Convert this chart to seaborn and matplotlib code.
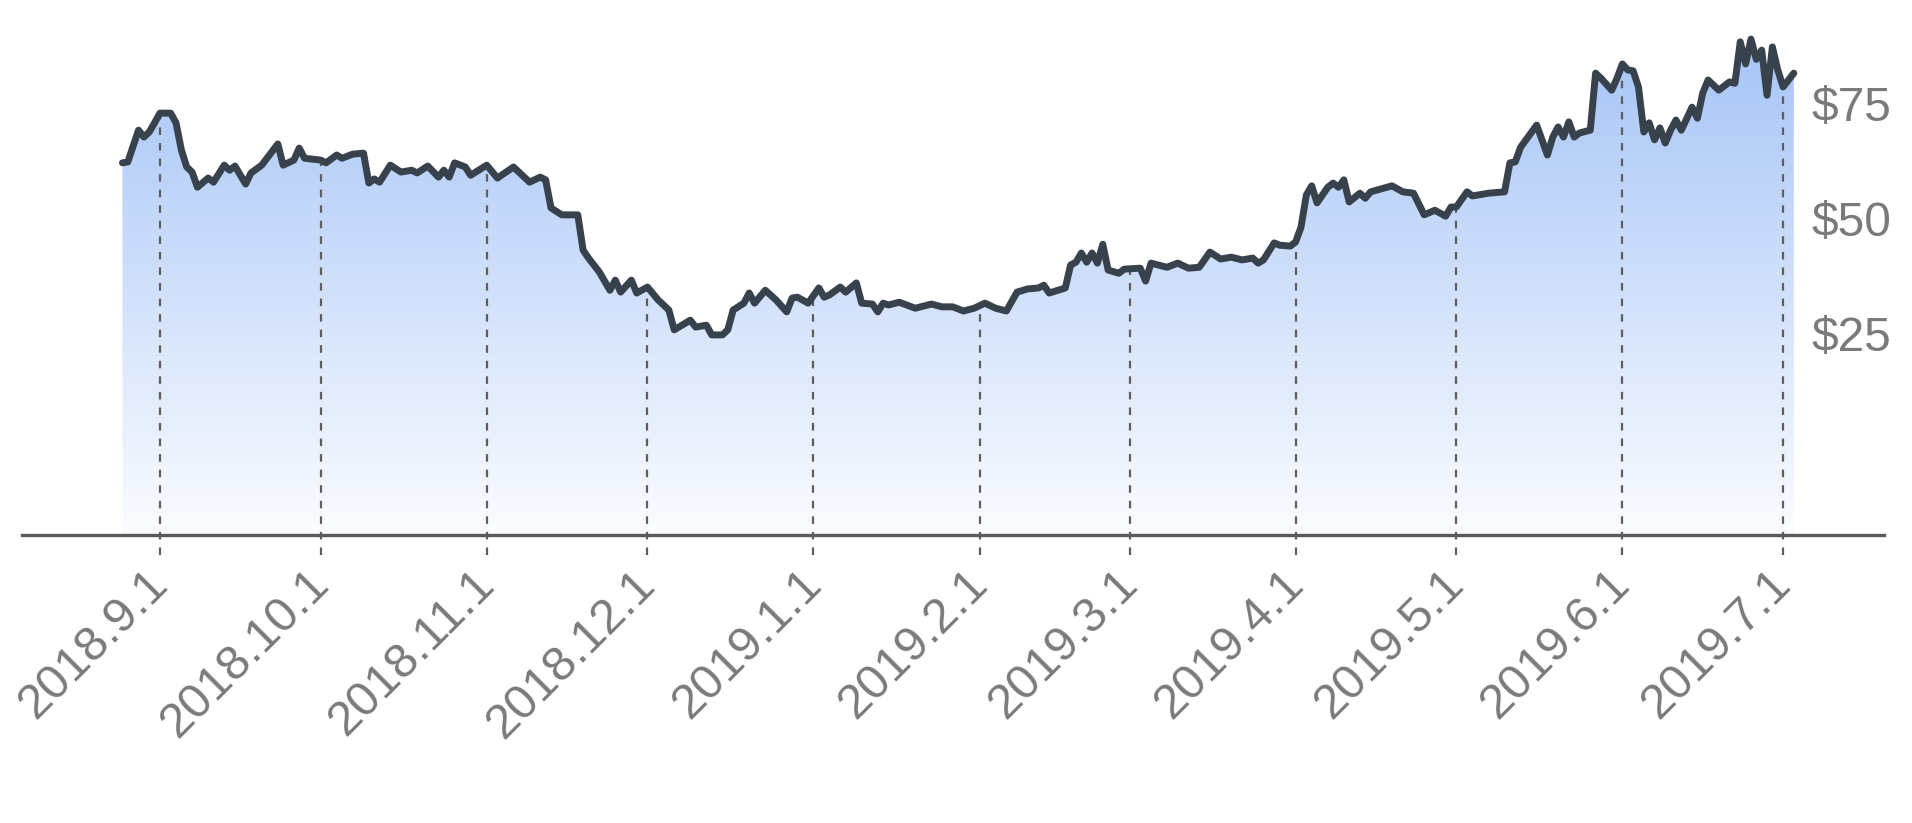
"""
Share price area chart, Aug 2018 - Jul 2019.
"""

import matplotlib
matplotlib.use("Agg")
import matplotlib.pyplot as plt
import matplotlib.dates as mdates
from matplotlib.colors import LinearSegmentedColormap
from matplotlib.transforms import ScaledTranslation
import numpy as np
import pandas as pd
import seaborn as sns

dates = [
    "2018-08-25", "2018-08-26", "2018-08-28", "2018-08-29", "2018-08-30", "2018-08-31",
    "2018-09-01", "2018-09-03", "2018-09-04", "2018-09-05", "2018-09-06", "2018-09-07",
    "2018-09-08", "2018-09-10", "2018-09-11", "2018-09-13", "2018-09-14", "2018-09-15",
    "2018-09-17", "2018-09-18", "2018-09-20", "2018-09-23", "2018-09-24", "2018-09-26",
    "2018-09-27", "2018-09-28", "2018-10-01", "2018-10-02", "2018-10-04", "2018-10-05",
    "2018-10-07", "2018-10-09", "2018-10-10", "2018-10-11", "2018-10-12", "2018-10-14",
    "2018-10-16", "2018-10-18", "2018-10-19", "2018-10-21", "2018-10-23", "2018-10-24",
    "2018-10-25", "2018-10-26", "2018-10-28", "2018-10-29", "2018-11-01", "2018-11-03",
    "2018-11-06", "2018-11-09", "2018-11-11", "2018-11-12", "2018-11-13", "2018-11-15",
    "2018-11-18", "2018-11-19", "2018-11-20", "2018-11-22", "2018-11-24", "2018-11-25",
    "2018-11-26", "2018-11-28", "2018-11-29", "2018-12-01", "2018-12-03", "2018-12-05",
    "2018-12-06", "2018-12-09", "2018-12-10", "2018-12-12", "2018-12-13", "2018-12-15",
    "2018-12-16", "2018-12-17", "2018-12-19", "2018-12-20", "2018-12-21", "2018-12-23",
    "2018-12-25", "2018-12-27", "2018-12-28", "2018-12-29", "2018-12-31", "2019-01-02",
    "2019-01-03", "2019-01-04", "2019-01-06", "2019-01-07", "2019-01-09", "2019-01-10",
    "2019-01-12", "2019-01-13", "2019-01-14", "2019-01-15", "2019-01-17", "2019-01-20",
    "2019-01-23", "2019-01-25", "2019-01-27", "2019-01-29", "2019-01-31", "2019-02-02",
    "2019-02-04", "2019-02-06", "2019-02-08", "2019-02-10", "2019-02-12", "2019-02-13",
    "2019-02-14", "2019-02-17", "2019-02-18", "2019-02-19", "2019-02-20", "2019-02-21",
    "2019-02-22", "2019-02-23", "2019-02-24", "2019-02-25", "2019-02-27", "2019-02-28",
    "2019-03-03", "2019-03-04", "2019-03-05", "2019-03-08", "2019-03-10", "2019-03-12",
    "2019-03-14", "2019-03-16", "2019-03-18", "2019-03-20", "2019-03-22", "2019-03-24",
    "2019-03-25", "2019-03-26", "2019-03-28", "2019-03-29", "2019-03-31", "2019-04-01",
    "2019-04-02", "2019-04-03", "2019-04-04", "2019-04-05", "2019-04-07", "2019-04-08",
    "2019-04-09", "2019-04-10", "2019-04-11", "2019-04-13", "2019-04-14", "2019-04-15",
    "2019-04-19", "2019-04-21", "2019-04-23", "2019-04-25", "2019-04-27", "2019-04-29",
    "2019-04-30", "2019-05-01", "2019-05-03", "2019-05-04", "2019-05-07", "2019-05-10",
    "2019-05-11", "2019-05-12", "2019-05-13", "2019-05-14", "2019-05-16", "2019-05-18",
    "2019-05-19", "2019-05-20", "2019-05-21", "2019-05-22", "2019-05-23", "2019-05-24",
    "2019-05-26", "2019-05-27", "2019-05-28", "2019-05-30", "2019-05-31", "2019-06-01",
    "2019-06-02", "2019-06-03", "2019-06-04", "2019-06-05", "2019-06-06", "2019-06-07",
    "2019-06-08", "2019-06-09", "2019-06-10", "2019-06-11", "2019-06-12", "2019-06-14",
    "2019-06-15", "2019-06-16", "2019-06-17", "2019-06-19", "2019-06-21", "2019-06-22",
    "2019-06-23", "2019-06-24", "2019-06-25", "2019-06-26", "2019-06-27", "2019-06-28",
    "2019-06-29", "2019-06-30", "2019-07-01", "2019-07-03",
]
prices = [
    62.0, 62.2, 69.1, 67.6, 68.7, 70.7,
    72.8, 72.8, 70.7, 64.8, 61.1, 60.0,
    56.7, 58.7, 57.8, 61.5, 60.4, 61.3,
    57.4, 59.8, 61.5, 66.1, 61.5, 62.6,
    65.2, 63.0, 62.6, 62.0, 63.7, 63.0,
    63.9, 64.1, 57.6, 58.5, 57.8, 61.5,
    60.0, 60.4, 59.8, 61.3, 58.9, 60.4,
    58.9, 62.0, 61.1, 59.3, 61.5, 58.7,
    61.1, 57.8, 58.9, 58.3, 52.2, 50.7,
    50.7, 43.0, 41.3, 38.3, 34.3, 36.5,
    33.9, 36.5, 33.7, 35.0, 32.2, 30.0,
    25.7, 27.8, 26.3, 26.7, 24.6, 24.6,
    25.7, 30.0, 31.5, 33.7, 31.5, 34.3,
    32.2, 29.6, 32.6, 32.8, 31.5, 34.8,
    32.8, 33.3, 35.0, 33.9, 35.9, 31.5,
    31.3, 29.6, 31.5, 31.1, 31.7, 30.4,
    31.3, 30.7, 30.7, 29.8, 30.4, 31.5,
    30.4, 29.8, 33.9, 34.6, 34.8, 35.4,
    33.7, 34.8, 39.8, 40.4, 42.4, 40.4,
    42.4, 40.2, 44.3, 38.7, 38.0, 38.9,
    39.1, 36.3, 40.2, 39.3, 40.2, 39.1,
    39.3, 42.6, 41.1, 41.5, 40.9, 41.3,
    40.2, 40.9, 44.6, 44.1, 43.9, 44.8,
    48.0, 55.0, 57.0, 53.3, 56.7, 57.6,
    56.7, 58.3, 53.5, 55.4, 54.3, 55.7,
    57.0, 55.7, 55.4, 50.7, 51.7, 50.4,
    52.4, 52.4, 55.7, 54.8, 55.4, 55.7,
    62.0, 62.2, 65.4, 67.0, 70.2, 63.7,
    67.6, 69.8, 67.6, 70.9, 67.6, 68.5,
    69.1, 81.5, 80.4, 77.8, 80.4, 83.5,
    82.2, 82.0, 78.5, 68.7, 70.7, 67.0,
    69.6, 66.3, 69.1, 71.3, 69.1, 74.1,
    71.7, 77.2, 80.0, 77.8, 79.6, 79.3,
    88.3, 83.5, 88.9, 84.5, 86.5, 76.7,
    87.2, 82.2, 78.5, 81.5,
]

month_ticks = ["2018-09-01", "2018-10-01", "2018-11-01", "2018-12-01", "2019-01-01",
               "2019-02-01", "2019-03-01", "2019-04-01", "2019-05-01", "2019-06-01",
               "2019-07-01"]
month_labels = ["2018.9.1", "2018.10.1", "2018.11.1", "2018.12.1", "2019.1.1",
                "2019.2.1", "2019.3.1", "2019.4.1", "2019.5.1", "2019.6.1", "2019.7.1"]
price_ticks = [25, 50, 75]
price_labels = ["$25", "$50", "$75"]

df = pd.DataFrame({"date": pd.to_datetime(dates), "price": prices})

sns.set_style("white")
plt.rcParams["font.family"] = ["Liberation Sans", "DejaVu Sans"]

W, H = 1912, 823
fig = plt.figure(figsize=(W / 100, H / 100), dpi=100)
ax = fig.add_axes([22 / W, 1 - 535 / H, (1884 - 22) / W, 535 / H])

y_lo, y_hi = -18.9, 97.4
x_lo = pd.Timestamp("2018-08-06 06:00")
x_hi = pd.Timestamp("2019-07-19 20:00")

# gradient area under the curve
fill = ax.fill_between(df["date"], df["price"], y_lo, facecolor="none", edgecolor="none")
fade = LinearSegmentedColormap.from_list("fade", ["#fbfcff", "#9fc0f6"])
grad = ax.imshow(np.linspace(0, 1, 256).reshape(-1, 1), cmap=fade, aspect="auto",
                 origin="lower", interpolation="bilinear",
                 extent=[mdates.date2num(x_lo), mdates.date2num(x_hi), y_lo, y_hi], zorder=1)
grad.set_clip_path(fill.get_paths()[0], transform=ax.transData)

# dashed drop lines at each month start
tick_dates = pd.to_datetime(month_ticks)
tick_vals = np.interp(mdates.date2num(tick_dates), mdates.date2num(df["date"]), df["price"])
ax.vlines(tick_dates, y_lo - 20 / 4.6, tick_vals, colors="#5e5e5e",
          linestyles=(0, (3.4, 3.6)), linewidth=1.6, clip_on=False, zorder=2)

sns.lineplot(data=df, x="date", y="price", color="#38424c", linewidth=5, ax=ax,
             zorder=3, solid_joinstyle="round", solid_capstyle="round")

ax.set_xlim(x_lo, x_hi)
ax.set_ylim(y_lo, y_hi)
ax.set_xlabel("")
ax.set_ylabel("")

for side in ["left", "right", "top"]:
    ax.spines[side].set_visible(False)
ax.spines["bottom"].set_color("#5a5a5a")
ax.spines["bottom"].set_linewidth(2.4)

ax.set_xticks(tick_dates)
ax.set_xticklabels(month_labels, rotation=45, ha="right", rotation_mode="anchor")
ax.tick_params(axis="x", length=0, pad=19, labelsize=35, labelcolor="#7a7a7a")
shift = ScaledTranslation(-15 / 100, 0, fig.dpi_scale_trans)
for lab in ax.get_xticklabels():
    lab.set_transform(lab.get_transform() + shift)

ax.yaxis.tick_right()
ax.set_yticks(price_ticks)
ax.set_yticklabels(price_labels)
ax.tick_params(axis="y", length=0, pad=-52, labelsize=34.5, labelcolor="#7a7a7a")

fig.savefig("out.png", dpi=100)
